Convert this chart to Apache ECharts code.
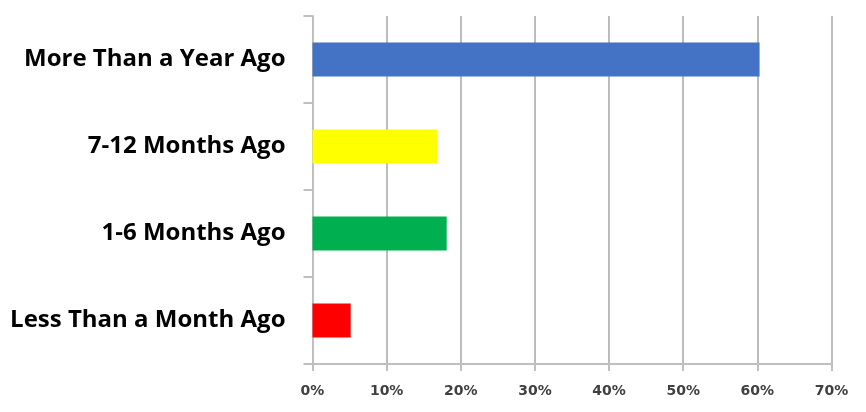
<!DOCTYPE html>
<html>
<head>
<meta charset="utf-8">
<script src="https://cdn.jsdelivr.net/npm/echarts@6/dist/echarts.min.js"></script>
<style>html,body{margin:0;padding:0;background:#fff;}#c{width:866px;height:412px;}</style>
</head>
<body>
<div id="c"></div>
<script>
const categories = ["More Than a Year Ago", "7-12 Months Ago", "1-6 Months Ago", "Less Than a Month Ago"];
const values = [60.3, 16.8, 18.1, 5.15];
const barColors = ["#4472C4", "#FFFF00", "#00B050", "#FF0000"];
const xTicks = [0, 10, 20, 30, 40, 50, 60, 70];

const chart = echarts.init(document.getElementById('c'));
chart.setOption({
  animation: false,
  backgroundColor: '#fff',
  grid: { left: 312.5, right: 34.5, top: 16, bottom: 48, containLabel: false },
  xAxis: {
    type: 'value', min: xTicks[0], max: xTicks[xTicks.length - 1], interval: 10,
    axisLine: { show: true, lineStyle: { color: '#bfbfbf', width: 2 } },
    axisTick: { show: true, length: 7, lineStyle: { color: '#bfbfbf', width: 2 } },
    splitLine: { show: true, lineStyle: { color: '#bcbcbc', width: 2 } },
    axisLabel: { formatter: v => v + '%', margin: 20, color: '#404040', fontFamily: 'DejaVu Sans', fontWeight: 'bold', fontSize: 14 }
  },
  yAxis: {
    type: 'category', data: categories, inverse: true,
    axisLine: { show: true, lineStyle: { color: '#bfbfbf', width: 2 } },
    axisTick: { show: true, length: 9, alignWithLabel: false, lineStyle: { color: '#bfbfbf', width: 2 } },
    axisLabel: { margin: 27, color: '#000', fontFamily: 'Open Sans', fontWeight: 'bold', fontSize: 24, padding: [4, 0, 0, 0] }
  },
  series: [{
    type: 'bar', barWidth: 34,
    data: values.map((v, i) => ({ value: v, itemStyle: { color: barColors[i] } }))
  }]
});
</script>
</body>
</html>
